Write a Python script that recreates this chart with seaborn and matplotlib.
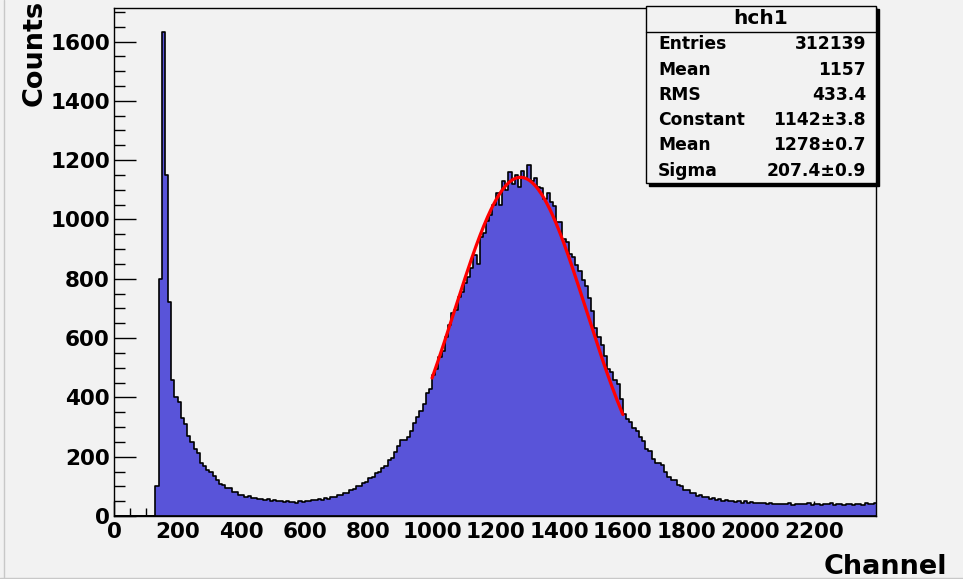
import numpy as np
import pandas as pd
import matplotlib
matplotlib.use("Agg")
import matplotlib.pyplot as plt
import seaborn as sns
from matplotlib.ticker import MultipleLocator
from matplotlib.patches import Rectangle
from matplotlib.lines import Line2D

# ---------------- data (10-channel bins, 0 .. 2400) ----------------
bin_width = 10
bin_start = 0
counts = [
    0, 0, 0, 0, 0, 0, 0, 0, 0, 0, 0, 0, 0,                 # 0-120
    100, 800, 1632, 1150, 720, 460, 400,                    # 130-190
    385, 330, 310, 270, 248, 225, 212, 180, 170, 156,       # 200-290
    148, 135, 120, 108, 104, 96, 93, 82, 80, 72,            # 300-390
    70, 65, 66, 60, 62, 57, 58, 54, 56, 51,                 # 400-490
    54, 49, 52, 47, 50, 46, 48, 45, 49, 47,                 # 500-590
    50, 51, 55, 53, 57, 55, 60, 58, 64, 65,                 # 600-690
    71, 70, 78, 79, 88, 90, 100, 102, 112, 116,             # 700-790
    128, 132, 145, 148, 162, 168, 188, 195, 215, 236,       # 800-890
    255, 256, 268, 288, 315, 335, 355, 378, 415, 428,       # 900-990
    475, 495, 535, 555, 605, 645, 685, 695, 740, 755,       # 1000-1090
    785, 805, 835, 880, 850, 940, 955, 995, 1015, 1050,     # 1100-1190
    1090, 1050, 1130, 1100, 1160, 1120, 1150, 1110, 1165, 1140,  # 1200-1290
    1185, 1130, 1140, 1110, 1105, 1070, 1090, 1060, 1045, 990,   # 1300-1390
    990, 935, 925, 885, 875, 845, 825, 795, 775, 735,       # 1400-1490
    690, 635, 605, 575, 540, 495, 485, 460, 445, 395,       # 1500-1590
    345, 328, 318, 298, 288, 265, 252, 226, 218, 193,       # 1600-1690
    180, 178, 172, 148, 132, 123, 120, 106, 100, 88,        # 1700-1790
    88, 78, 76, 68, 70, 64, 63, 58, 60, 55,                 # 1800-1890
    57, 51, 55, 49, 50, 48, 49, 45, 49, 44,                 # 1900-1990
    46, 45, 44, 43, 44, 41, 43, 40, 42, 40,                 # 2000-2090
    40, 39, 43, 38, 41, 40, 39, 40, 43, 38,                 # 2100-2190
    42, 39, 38, 42, 39, 43, 38, 41, 40, 38,                 # 2200-2290
    41, 42, 38, 42, 39, 38, 43, 39, 41, 44,                 # 2300-2390
]

# fit parameters (from the stats box)
fit_constant = 1142
fit_mean = 1278
fit_sigma = 207.4
fit_range = [1000, 1600]

stats_title = "hch1"
stats_labels = ["Entries", "Mean", "RMS", "Constant", "Mean", "Sigma"]
stats_values = ["312139", "1157", "433.4", "1142\u00b13.8", "1278\u00b10.7", "207.4\u00b10.9"]

x_title = "Channel"
y_title = "Counts"

# ---------------- plotting ----------------
sns.set_theme(style="white")
plt.rcParams["font.family"] = ["DejaVu Sans"]
plt.rcParams["font.weight"] = "bold"

bg = "#f2f2f2"
fig = plt.figure(figsize=(9.63, 5.79), dpi=100, facecolor=bg)
ax = fig.add_axes([0.1184, 0.1088, 0.7913, 0.8774])
ax.set_facecolor(bg)

n_bins = len(counts)
centers = bin_start + bin_width * (np.arange(n_bins) + 0.5)
df = pd.DataFrame({"channel": centers, "counts": np.asarray(counts, dtype=float)})

sns.histplot(data=df, x="channel", weights="counts", binwidth=bin_width,
             binrange=(bin_start, bin_start + bin_width * n_bins),
             element="step", fill=True, color="#5954d9", alpha=1.0,
             edgecolor="black", linewidth=1.2, ax=ax)

# gaussian fit curve
xf = np.linspace(fit_range[0], fit_range[1], 200)
yf = fit_constant * np.exp(-0.5 * ((xf - fit_mean) / fit_sigma) ** 2)
ax.plot(xf, yf, color="#ff0000", linewidth=2.3, zorder=5)

ax.set_xlim(0, 2396)
ax.set_ylim(0, 1713)
ax.set_xlabel("")
ax.set_ylabel("")

ax.xaxis.set_major_locator(MultipleLocator(200))
ax.xaxis.set_minor_locator(MultipleLocator(50))
ax.yaxis.set_major_locator(MultipleLocator(200))
ax.yaxis.set_minor_locator(MultipleLocator(50))

ax.tick_params(axis="x", which="major", direction="in", length=11, width=1.0,
               color="black", labelsize=15.5, pad=4, bottom=True, top=False)
ax.tick_params(axis="x", which="minor", direction="in", length=5.5, width=1.0,
               color="black", bottom=True, top=False)
ax.tick_params(axis="y", which="major", direction="in", length=16, width=1.0,
               color="black", labelsize=15.5, pad=3, left=True, right=False)
ax.tick_params(axis="y", which="minor", direction="in", length=8, width=1.0,
               color="black", left=True, right=False)
for lab in ax.get_xticklabels() + ax.get_yticklabels():
    lab.set_fontweight("bold")
    lab.set_color("black")

for s in ax.spines.values():
    s.set_color("black")
    s.set_linewidth(1.0)
    s.set_visible(True)

# axis titles
fig.text(0.983, 0.0086, x_title, ha="right", va="baseline",
         fontsize=19.5, fontweight="bold", color="black")
fig.text(0.036, 1.0, y_title, ha="center", va="top", rotation=90,
         fontsize=19.5, fontweight="bold", color="black")

# stats box
W, H = 963.0, 579.0
def fx(px):
    return px / W
def fy(py):
    return 1 - py / H

bx0, bx1, by0, by1 = 646, 875.5, 6, 183
fig.add_artist(Rectangle((fx(bx0 + 3), fy(by1 + 3)), fx(bx1 - bx0), (by1 - by0) / H,
                         transform=fig.transFigure, facecolor="black",
                         edgecolor="black", zorder=10))
fig.add_artist(Rectangle((fx(bx0), fy(by1)), fx(bx1 - bx0), (by1 - by0) / H,
                         transform=fig.transFigure, facecolor=bg,
                         edgecolor="black", linewidth=1.0, zorder=11))
fig.add_artist(Line2D([fx(bx0), fx(bx1)], [fy(31.7), fy(31.7)],
                      transform=fig.transFigure, color="black", linewidth=1.0, zorder=12))
fig.text(fx((bx0 + bx1) / 2), fy(18.5), stats_title, ha="center", va="center",
         fontsize=14.5, fontweight="bold", color="black", zorder=13)
row_y = [44, 70, 95, 120, 145, 171]
for lab, val, yy in zip(stats_labels, stats_values, row_y):
    fig.text(fx(658), fy(yy), lab, ha="left", va="center", fontsize=12.3,
             fontweight="bold", color="black", zorder=13)
    fig.text(fx(866), fy(yy), val, ha="right", va="center", fontsize=12.3,
             fontweight="bold", color="black", zorder=13)

# canvas border lines
fig.add_artist(Line2D([fx(4), fx(4)], [0, 1], transform=fig.transFigure,
                      color="#c8c8c8", linewidth=1.0))
fig.add_artist(Line2D([0, 1], [fy(577.5), fy(577.5)], transform=fig.transFigure,
                      color="#c8c8c8", linewidth=1.0))

fig.savefig("out.png", dpi=100, facecolor=bg)
